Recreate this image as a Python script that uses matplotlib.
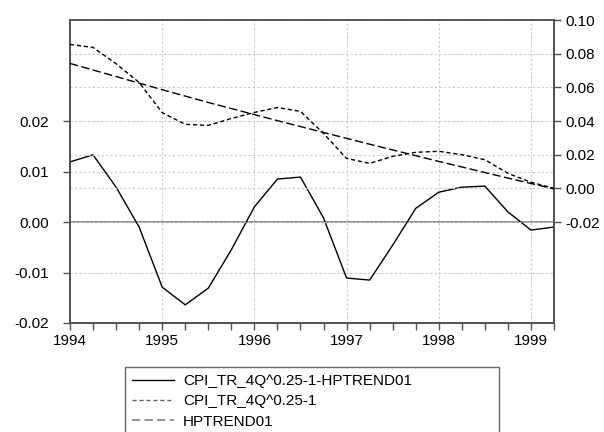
import matplotlib
matplotlib.use("Agg")
import matplotlib.pyplot as plt
from matplotlib.lines import Line2D
import numpy as np
import pandas as pd

plt.rcParams['font.family'] = ['Liberation Sans', 'DejaVu Sans']
plt.rcParams['font.size'] = 11

# quarterly sample 1994Q1 - 1999Q2
quarters = pd.period_range('1994Q1', '1999Q2', freq='Q')
t = np.array([q.year + (q.quarter - 1) / 4 for q in quarters])

# left scale: cycle (CPI - trend)
gap = [0.0119, 0.0133, 0.0069, -0.0010, -0.0129, -0.0164, -0.0131, -0.0055,
       0.0030, 0.0085, 0.0089, 0.0008, -0.0111, -0.0115, -0.0046, 0.0027,
       0.0059, 0.0069, 0.0071, 0.0020, -0.0016, -0.0010]
# right scale
cpi = [0.0855, 0.0837, 0.0740, 0.0629, 0.0450, 0.0380, 0.0374, 0.0415,
       0.0451, 0.0480, 0.0457, 0.0326, 0.0178, 0.0148, 0.0190, 0.0214,
       0.0220, 0.0200, 0.0170, 0.0089, 0.0036, 0.0000]
hptrend = [0.0742, 0.0703, 0.0664, 0.0625, 0.0586, 0.0548, 0.0510, 0.0474,
           0.0438, 0.0402, 0.0367, 0.0332, 0.0297, 0.0262, 0.0228, 0.0194,
           0.0160, 0.0127, 0.0094, 0.0061, 0.0029, -0.0003]

left_ticks = [-0.02, -0.01, 0.00, 0.01, 0.02]
right_ticks = [-0.02, 0.00, 0.02, 0.04, 0.06, 0.08, 0.10]
years = [1994, 1995, 1996, 1997, 1998, 1999]

labels = ['CPI_TR_4Q^0.25-1-HPTREND01', 'CPI_TR_4Q^0.25-1', 'HPTREND01']

spine_col = '#505050'
grid_col = '#c8c8c8'

fig = plt.figure(figsize=(6.04, 4.32), dpi=100)
ax = fig.add_axes([70/604, 1 - 323/432, 484/604, 303/432])
ax2 = ax.twinx()

# grids
for yv in left_ticks:
    if yv != 0:
        ax.axhline(yv, color=grid_col, lw=0.8, ls=(0, (2, 2)), zorder=0)
for yv in right_ticks:
    ax2.axhline(yv, color=grid_col, lw=0.8, ls=(0, (2, 2)), zorder=0)
for xv in years[1:]:
    ax.axvline(xv, color=grid_col, lw=0.8, ls=(0, (2, 2)), zorder=0)
ax.axhline(0, color='#808080', lw=1.2, zorder=1)

ax.plot(t, gap, color='black', lw=1.0, zorder=3)
ax2.plot(t, cpi, color='black', lw=1.0, ls=(0, (3, 2)), zorder=3)
ax2.plot(t, hptrend, color='black', lw=1.0, ls=(0, (6, 2.5)), zorder=3)

ax.set_xlim(1994, 1999.25)
ax.set_ylim(-0.02, 0.04)
ax2.set_ylim(-0.08, 0.10)

ax.set_xticks(years)
ax.set_xticks(t, minor=True)
ax.set_yticks(left_ticks)
ax.set_yticklabels([f'{v:.2f}' for v in left_ticks])
ax2.set_yticks(right_ticks)
ax2.set_yticklabels([f'{v:.2f}' for v in right_ticks])

ax.tick_params(axis='x', which='both', length=5, width=1.0, color=spine_col,
               direction='out', pad=3)
ax.tick_params(axis='y', length=5, width=1.0, color=spine_col,
               direction='out', pad=10)
ax2.tick_params(axis='y', length=5, width=1.0, color=spine_col,
                direction='out', pad=3)

for a in (ax, ax2):
    for s in a.spines.values():
        s.set_color(spine_col)
        s.set_linewidth(1.2)

handles = [
    Line2D([], [], color='black', lw=1.0),
    Line2D([], [], color='#606060', lw=1.0, ls=(0, (3, 2))),
    Line2D([], [], color='#808080', lw=1.2, ls=(0, (5, 2.5))),
]
leg = fig.legend(handles, labels, loc='upper left',
                 bbox_to_anchor=(125/604, 0, 374/604, 1 - 367/432), mode='expand',
                 frameon=True, fancybox=False, edgecolor='#404040',
                 borderpad=0.45, handlelength=2.75, handletextpad=0.6,
                 labelspacing=0.42, fontsize=11, borderaxespad=0)
leg.get_frame().set_linewidth(1.0)

fig.savefig('out.png', dpi=100)
